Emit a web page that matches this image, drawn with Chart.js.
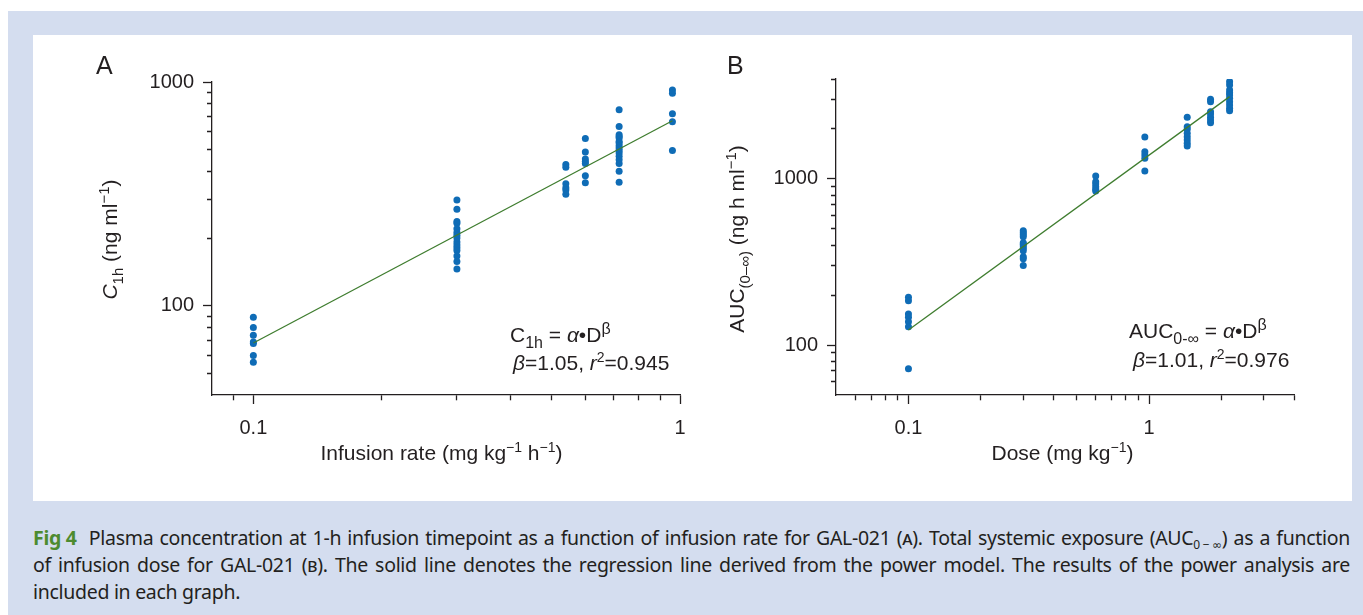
<!DOCTYPE html>
<html>
<head>
<meta charset="utf-8">
<script src="https://cdn.jsdelivr.net/npm/chart.js@4.4.1/dist/chart.umd.min.js"></script>
<style>
  body { margin: 0; width: 1363px; height: 615px; background: #fff; position: relative; overflow: hidden; }
  #frame { position: absolute; left: 8px; top: 11px; width: 1355px; height: 604px; background: #d4ddef; }
  #panel { position: absolute; left: 33px; top: 35px; width: 1319px; height: 466px; background: #fff; }
  canvas { position: absolute; }
  #chartA { left: 40px; top: 40px; }
  #chartB { left: 700px; top: 40px; }
  #caption { position: absolute; left: 33px; top: 524px; width: 1317px; color: #231f20;
             font-family: "Noto Sans", "DejaVu Sans", sans-serif; font-size: 19.5px; line-height: 27px; letter-spacing: -0.3px; }
  #caption div { white-space: nowrap; }
  #caption .j { text-align: justify; text-align-last: justify; white-space: normal; }
  .fig { color: #4d8b2f; font-weight: bold; display: inline-block; margin-right: 6px; }
  .sc { font-variant: small-caps; }
  .sub { display: inline-block; font-size: 12px; vertical-align: -4px; line-height: 0; }
</style>
</head>
<body>
<div id="frame"></div>
<div id="panel"></div>
<canvas id="chartA" width="660" height="455"></canvas>
<canvas id="chartB" width="640" height="455"></canvas>
<div id="caption">
  <div class="j"><span class="fig">Fig 4</span> Plasma concentration at 1-h infusion timepoint as a function of infusion rate for GAL-021 (<span class="sc">a</span>). Total systemic exposure (AUC<span class="sub">0 − ∞</span>) as a function</div>
  <div class="j">of infusion dose for GAL-021 (<span class="sc">b</span>). The solid line denotes the regression line derived from the power model. The results of the power analysis are</div>
  <div>included in each graph.</div>
</div>
<script>
// Panel A: C1h vs infusion rate
const rateA = [0.1, 0.3, 0.54, 0.6, 0.72, 0.96];
const c1hA = [
  [89, 80, 74, 69, 68, 60, 56],
  [297, 270, 238, 234, 221, 213, 207, 201, 193, 187, 182, 177, 167, 158, 146],
  [428, 416, 351, 337, 329, 315],
  [560, 487, 453, 442, 432, 381, 355],
  [751, 633, 581, 571, 562, 543, 534, 519, 507, 495, 482, 466, 450, 432, 399, 357],
  [921, 891, 721, 664, 495]
];
const fitA_x = [0.1, 0.96];
const fitA_y = [68.3, 671];

// Panel B: AUC vs dose
const doseB = [0.1, 0.3, 0.6, 0.96, 1.44, 1.8, 2.16];
const aucB = [
  [194, 185, 154, 147, 138, 129, 72],
  [488, 475, 462, 449, 413, 404, 395, 382, 370, 340, 331, 301],
  [1042, 963, 933, 899, 867, 847],
  [1791, 1460, 1395, 1332, 1117],
  [2353, 2065, 1993, 1885, 1798, 1718, 1641, 1580],
  [3022, 2922, 2543, 2464, 2353, 2267, 2184],
  [3855, 3681, 3436, 3311, 3206, 3062, 2922, 2791, 2666, 2578]
];
const fitB_x = [0.1, 2.16];
const fitB_y = [123, 3132];

// axis ticks and labelled (major) ticks
const xTicksA = [0.09, 0.1, 0.2, 0.3, 0.4, 0.5, 0.6, 0.7, 0.8, 0.9, 1];
const yTicksA = [50, 60, 70, 80, 90, 100, 200, 300, 400, 500, 600, 700, 800, 900, 1000];
const xMajorA = [0.1, 1];
const yMajorA = [100, 1000];
const xTicksB = [0.06, 0.07, 0.08, 0.09, 0.1, 0.2, 0.3, 0.4, 0.5, 0.6, 0.7, 0.8, 0.9, 1, 2, 3, 4];
const yTicksB = [60, 70, 80, 90, 100, 200, 300, 400, 500, 600, 700, 800, 900, 1000, 2000, 3000, 4000];
const xMajorB = [0.1, 1];
const yMajorB = [100, 1000];

const INK = '#231f20';
const DOT = '#0f6cb6';
const FIT = '#3f7d2f';
const FONT = '"Liberation Sans", Arial, sans-serif';

function points(xs, ys) {
  return xs.flatMap((x, i) => ys[i].map(y => ({ x: x, y: y })));
}
function pairs(xs, ys) {
  return xs.map((x, i) => ({ x: x, y: ys[i] }));
}

// draw a string made of runs: plain, italic, sub, sup
function drawRuns(ctx, x, y, runs, size, align, subScale) {
  const k = subScale || 0.68;
  const fontFor = s => (s === 'i' ? 'italic ' : '') +
    ((s === 'sub' || s === 'sup') ? Math.round(size * k) : size) + 'px ' + FONT;
  let w = 0;
  runs.forEach(([t, s]) => { ctx.font = fontFor(s); w += ctx.measureText(t).width; });
  let cx = align === 'center' ? x - w / 2 : x;
  ctx.fillStyle = INK;
  ctx.textBaseline = 'alphabetic';
  ctx.textAlign = 'left';
  runs.forEach(([t, s]) => {
    ctx.font = fontFor(s);
    const dy = s === 'sub' ? size * 0.28 : s === 'sup' ? -size * 0.4 : 0;
    ctx.fillText(t, cx, y + dy);
    cx += ctx.measureText(t).width;
  });
}

function textPlugin(spec) {
  return {
    id: 'texts',
    afterDraw(chart) {
      const ctx = chart.ctx;
      const a = chart.chartArea;
      ctx.save();
      ctx.fillStyle = INK;
      ctx.font = '25px ' + FONT;
      ctx.fillText(spec.panel, a.left + spec.panelDx, a.top + spec.panelDy);
      // y title, rotated
      ctx.save();
      ctx.translate(a.left + spec.yTitleDx, (a.top + a.bottom) / 2 + spec.yTitleDy);
      ctx.rotate(-Math.PI / 2);
      drawRuns(ctx, 0, 0, spec.yTitle, 21, 'center', 0.72);
      ctx.restore();
      // x title
      drawRuns(ctx, a.left + spec.xTitleDx, a.bottom + 65, spec.xTitle, 21, 'center');
      // power model annotation
      drawRuns(ctx, a.right + spec.noteDx[0], a.bottom + spec.noteDy[0], spec.note1, 21, 'left', 0.74);
      drawRuns(ctx, a.right + spec.noteDx[1], a.bottom + spec.noteDy[1], spec.note2, 21, 'left');
      ctx.restore();
    }
  };
}

function axis(pos, min, max, tickList, majors, size) {
  const tl = 9;
  return {
    type: 'logarithmic',
    position: pos,
    min: min,
    max: max,
    border: { display: true, color: INK, width: 1.3 },
    grid: {
      display: true,
      drawOnChartArea: false,
      drawTicks: true,
      tickLength: tl,
      tickColor: INK,
      tickWidth: 1.3,
      // minor ticks are drawn only over the part next to the axis
      tickBorderDash: c => {
        if (!c.tick || majors.includes(c.tick.value)) return [];
        return pos === 'left' ? [0, tl - 5, 5, 60] : [5, 60];
      }
    },
    ticks: {
      autoSkip: false,
      maxRotation: 0,
      padding: pos === 'left' ? 9 : 12,
      color: INK,
      font: { family: FONT, size: 20 },
      callback: v => (majors.includes(v) ? String(v) : '')
    },
    afterBuildTicks: s => { s.ticks = tickList.map(v => ({ value: v, major: majors.includes(v) })); },
    afterFit: s => { if (pos === 'left') s.width = size; else s.height = size; }
  };
}

function makeChart(id, scatter, fit, xs, ys, pad, spec) {
  return new Chart(document.getElementById(id), {
    type: 'scatter',
    data: {
      datasets: [
        { data: fit, showLine: true, borderColor: FIT, borderWidth: 1.3, pointRadius: 0, fill: false },
        { data: scatter, pointRadius: 3.5, pointBackgroundColor: DOT, pointBorderWidth: 0 }
      ]
    },
    options: {
      responsive: false,
      animation: false,
      devicePixelRatio: 1,
      layout: { padding: pad },
      plugins: { legend: { display: false }, tooltip: { enabled: false } },
      scales: { x: xs, y: ys }
    },
    plugins: [textPlugin(spec)]
  });
}

makeChart('chartA',
  points(rateA, c1hA), pairs(fitA_x, fitA_y),
  axis('bottom', 0.08, 1, xTicksA, xMajorA, 100),
  axis('left', 40, 1000, yTicksA, yMajorA, 172),
  { top: 42, right: 20, left: 0, bottom: 0 },
  {
    panel: 'A', panelDx: -116, panelDy: -8,
    yTitleDx: -95, yTitleDy: 1,
    yTitle: [['C', 'i'], ['1h', 'sub'], [' (ng ml', ''], ['\u22121', 'sup'], [')', '']],
    xTitleDx: 229.5,
    xTitle: [['Infusion rate (mg kg', ''], ['\u22121', 'sup'], [' h', ''], ['\u22121', 'sup'], [')', '']],
    noteDx: [-170, -167], noteDy: [-53, -25],
    note1: [['C', ''], ['1h', 'sub'], [' = ', ''], ['\u03b1', 'i'], ['\u2022D', ''], ['\u03b2', 'sup']],
    note2: [['\u03b2', 'i'], ['=1.05, ', ''], ['r', 'i'], ['2', 'sup'], ['=0.945', '']]
  });

makeChart('chartB',
  points(doseB, aucB), pairs(fitB_x, fitB_y),
  axis('bottom', 0.05, 4, xTicksB, xMajorB, 100),
  axis('left', 50, 4000, yTicksB, yMajorB, 136),
  { top: 39, right: 46, left: 0, bottom: 0 },
  {
    panel: 'B', panelDx: -109, panelDy: -5,
    yTitleDx: -92, yTitleDy: 2,
    yTitle: [['AUC', ''], ['(0\u2013\u221e)', 'sub'], [' (ng h ml', ''], ['\u22121', 'sup'], [')', '']],
    xTitleDx: 226.5,
    xTitle: [['Dose (mg kg', ''], ['\u22121', 'sup'], [')', '']],
    noteDx: [-165, -161], noteDy: [-57, -28],
    note1: [['AUC', ''], ['0-\u221e', 'sub'], [' = ', ''], ['\u03b1', 'i'], ['\u2022D', ''], ['\u03b2', 'sup']],
    note2: [['\u03b2', 'i'], ['=1.01, ', ''], ['r', 'i'], ['2', 'sup'], ['=0.976', '']]
  });
</script>
</body>
</html>
